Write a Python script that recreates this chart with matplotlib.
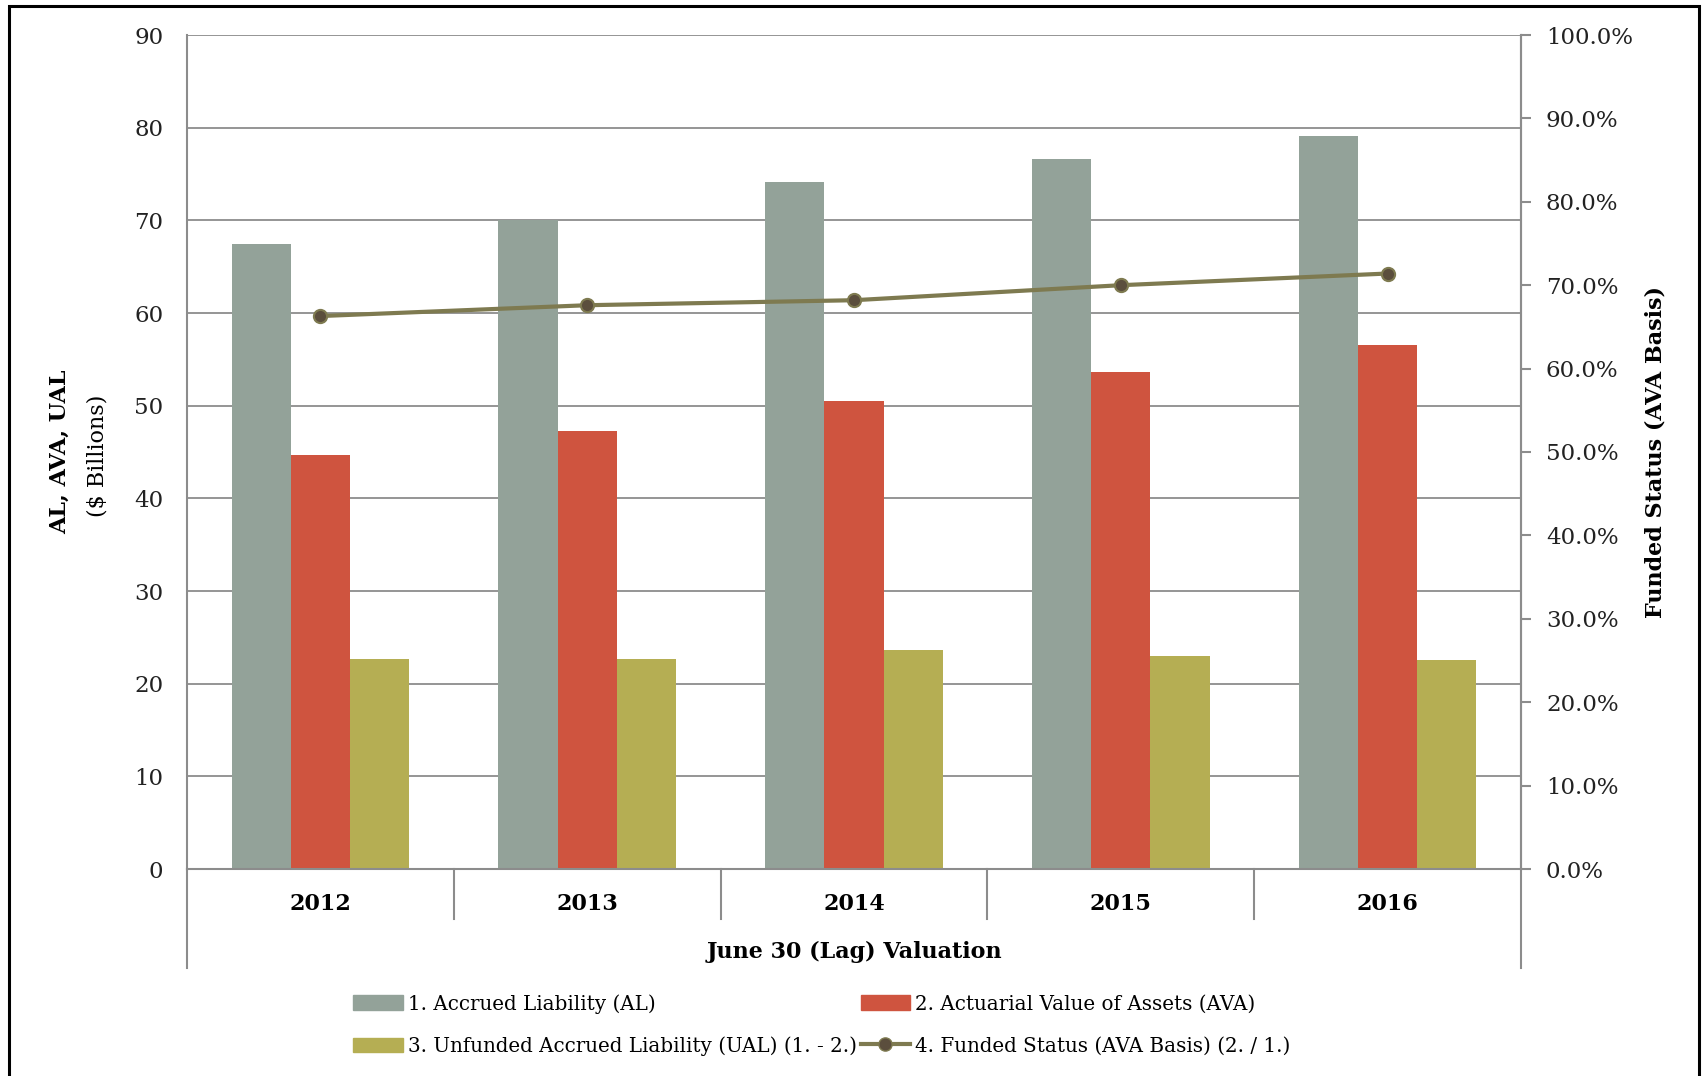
import numpy as np
import matplotlib
matplotlib.use('Agg')
import matplotlib.pyplot as plt
from matplotlib.patches import Rectangle
from matplotlib.lines import Line2D
from matplotlib.ticker import FuncFormatter

## 데이터
years = ['2012', '2013', '2014', '2015', '2016']
accrued_liability = [67.4, 70.0, 74.1, 76.6, 79.1]      # AL ($B)
actuarial_assets = [44.7, 47.3, 50.5, 53.6, 56.5]       # AVA ($B)
unfunded_liability = [22.7, 22.7, 23.6, 23.0, 22.6]     # UAL ($B)
funded_status = [0.663, 0.676, 0.682, 0.700, 0.714]     # AVA / AL

labels = ['1. Accrued Liability (AL)',
          '2. Actuarial Value of Assets (AVA)',
          '3. Unfunded Accrued Liability (UAL) (1. - 2.)',
          '4. Funded Status (AVA Basis) (2. / 1.)']

## 스타일
c_al = '#93A299'
c_ava = '#CF543F'
c_ual = '#B5AE53'
c_line = '#7E7A50'
c_mark = '#5B4E3D'
c_grid = '#8C8C8C'
serif = ['DejaVu Serif']

plt.rcParams['font.family'] = serif

fig = plt.figure(figsize=(17.06, 10.76), dpi=100)
ax = fig.add_axes([187 / 1706, 1 - 869 / 1076, (1521 - 187) / 1706, (869 - 35) / 1076])

x = np.arange(len(years))
w = 0.222
ax.bar(x - w, accrued_liability, w, color=c_al, zorder=2)
ax.bar(x, actuarial_assets, w, color=c_ava, zorder=2)
ax.bar(x + w, unfunded_liability, w, color=c_ual, zorder=2)

ax.set_xlim(-0.5, len(years) - 0.5)
ax.set_ylim(0, 90)
ax.set_yticks(np.arange(0, 91, 10))
ax.yaxis.grid(True, color=c_grid, linewidth=1.3)
ax.set_axisbelow(True)
ax.tick_params(axis='y', length=0, pad=17, labelsize=16.5, colors='#222222')
ax.set_xticks(x)
ax.set_xticklabels(years, fontweight='bold', fontsize=16)
ax.tick_params(axis='x', length=0, pad=17)

for s in ['top']:
    ax.spines[s].set_visible(False)
for s in ['left', 'right', 'bottom']:
    ax.spines[s].set_color(c_grid)
    ax.spines[s].set_linewidth(1.5)

# 카테고리 구분선 (축 아래로 연장)
tr = ax.get_xaxis_transform()
edges = np.arange(len(years) + 1) - 0.5
for i, e in enumerate(edges):
    y_end = -0.119 if i in (0, len(edges) - 1) else -0.060
    ax.plot([e, e], [0, y_end], color=c_grid, lw=1.5, transform=tr, clip_on=False)

ax.text(0.5, -0.0995, 'June 30 (Lag) Valuation', transform=ax.transAxes,
        ha='center', va='center', fontsize=16, fontweight='bold')

# 오른쪽 축: 적립률
ax2 = ax.twinx()
ax2.plot(x, funded_status, color=c_line, lw=3, marker='o', markersize=9.5,
         markerfacecolor=c_mark, markeredgecolor=c_line, markeredgewidth=1.5, zorder=3)
ax2.set_ylim(0, 1)
ax2.set_yticks(np.arange(0, 1.01, 0.1))
ax2.yaxis.set_major_formatter(FuncFormatter(lambda v, p: '%.1f%%' % (v * 100)))
ax2.tick_params(axis='y', length=7, width=1.5, color=c_grid, pad=11, labelsize=16.5,
                labelcolor='#222222')
for s in ['top', 'left', 'bottom']:
    ax2.spines[s].set_visible(False)
ax2.spines['right'].set_color(c_grid)
ax2.spines['right'].set_linewidth(1.5)

# 축 제목
fig.text(60 / 1706, 1 - 452 / 1076, 'AL, AVA, UAL', rotation=90, ha='center', va='center',
         fontsize=16, fontweight='bold')
fig.text(98 / 1706, 1 - 456 / 1076, '($ Billions)', rotation=90, ha='center', va='center',
         fontsize=16)
fig.text(1656 / 1706, 1 - 452 / 1076, 'Funded Status (AVA Basis)', rotation=90,
         ha='center', va='center', fontsize=16, fontweight='bold')

# 범례
h_al = Rectangle((0, 0), 1, 1, color=c_al)
h_ava = Rectangle((0, 0), 1, 1, color=c_ava)
h_ual = Rectangle((0, 0), 1, 1, color=c_ual)
h_fs = Line2D([], [], color=c_line, lw=3, marker='o', markersize=9.5,
              markerfacecolor=c_mark, markeredgecolor=c_line)
fig.legend([h_al, h_ual, h_ava, h_fs], [labels[0], labels[2], labels[1], labels[3]],
           ncol=2, loc='upper left', bbox_to_anchor=(343 / 1706, 1 - 984 / 1076),
           frameon=False, borderpad=0, fontsize=14.3, handlelength=2.5, handletextpad=0.25,
           columnspacing=0.2, labelspacing=1.15, handleheight=0.75)

# 테두리
fig.patches.append(Rectangle((9 / 1706, -0.01), (1699 - 9) / 1706, 1.01 - 5.5 / 1076,
                             transform=fig.transFigure, fill=False, edgecolor='black',
                             linewidth=2.2))

fig.savefig('out.png', dpi=100)
